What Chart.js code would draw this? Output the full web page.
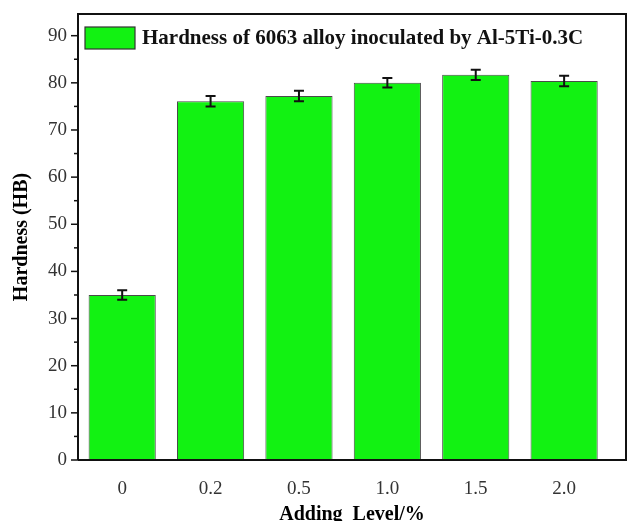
<!DOCTYPE html>
<html>
<head>
<meta charset="utf-8">
<script src="https://cdn.jsdelivr.net/npm/chart.js@4"></script>
<style>
  html, body { margin: 0; padding: 0; background: #fff; }
  #wrap { width: 627px; height: 521px; }
</style>
</head>
<body>
<div id="wrap"><canvas id="chartDureza"></canvas></div>
<script>
const niveis = ['0', '0.2', '0.5', '1.0', '1.5', '2.0'];
const dureza = [35.0, 76.1, 77.2, 80.0, 81.7, 80.4];
const erros = [1.0, 1.1, 1.1, 1.0, 1.1, 1.1];
const yTicks = [0, 10, 20, 30, 40, 50, 60, 70, 80, 90];
const legendaTexto = 'Hardness of 6063 alloy inoculated by Al-5Ti-0.3C';

const verde = '#12F212';
const serif = "'Liberation Serif', 'Times New Roman', serif";

// barras de erro + moldura + marcas do eixo y + legenda
const extras = {
    id: 'extras',
    afterDatasetsDraw(chart) {
        const ctx = chart.ctx;
        const y = chart.scales.y;
        const meta = chart.getDatasetMeta(0);
        ctx.save();
        ctx.strokeStyle = '#111';
        ctx.lineWidth = 2;
        meta.data.forEach((bar, i) => {
            const top = y.getPixelForValue(dureza[i] + erros[i]);
            const bot = y.getPixelForValue(dureza[i] - erros[i]);
            ctx.beginPath();
            ctx.moveTo(bar.x, top); ctx.lineTo(bar.x, bot);
            ctx.moveTo(bar.x - 5, top); ctx.lineTo(bar.x + 5, top);
            ctx.moveTo(bar.x - 5, bot); ctx.lineTo(bar.x + 5, bot);
            ctx.stroke();
        });
        ctx.restore();
    },
    afterDraw(chart) {
        const ctx = chart.ctx;
        const a = chart.chartArea;
        const y = chart.scales.y;
        ctx.save();
        ctx.strokeStyle = '#111';
        ctx.lineWidth = 2;
        ctx.beginPath();
        ctx.moveTo(a.left, a.bottom);
        ctx.lineTo(a.left, a.top);
        ctx.lineTo(a.right, a.top);
        ctx.lineTo(a.right, a.bottom);
        ctx.lineTo(a.left, a.bottom);
        ctx.stroke();

        // ticks do eixo y (maiores e menores)
        ctx.lineWidth = 1.5;
        for (let v = 0; v <= 90; v += 5) {
            const py = y.getPixelForValue(v);
            const len = v % 10 === 0 ? 7 : 4;
            ctx.beginPath();
            ctx.moveTo(a.left - len, py);
            ctx.lineTo(a.left, py);
            ctx.stroke();
        }

        // legenda
        ctx.fillStyle = verde;
        ctx.fillRect(85, 27, 50, 22);
        ctx.strokeStyle = '#333';
        ctx.lineWidth = 1.2;
        ctx.strokeRect(85, 27, 50, 22);
        ctx.fillStyle = '#111';
        ctx.font = "bold 21px " + serif;
        ctx.textBaseline = 'middle';
        ctx.fillText(legendaTexto, 142, 39);
        ctx.restore();
    }
};

new Chart(document.getElementById('chartDureza'), {
    type: 'bar',
    data: {
        datasets: [{
            label: legendaTexto,
            data: dureza.map((v, i) => ({ x: i, y: v })),
            backgroundColor: verde,
            borderColor: '#4a4a4a',
            borderWidth: 1,
            barPercentage: 0.76,
            categoryPercentage: 1
        }]
    },
    options: {
        responsive: true,
        maintainAspectRatio: false,
        animation: false,
        layout: { padding: { top: 14, right: 1, left: 0, bottom: 0 } },
        scales: {
            x: {
                type: 'linear',
                offset: false,
                min: -0.5,
                max: 5.7,
                afterBuildTicks(scale) {
                    scale.ticks = niveis.map((_, i) => ({ value: i }));
                },
                afterFit(scale) {
                    scale.height = 61;
                    scale.paddingLeft = 0;
                    scale.paddingRight = 0;
                },
                ticks: {
                    callback: (v) => niveis[v] ?? '',
                    color: '#333',
                    font: { family: serif, size: 19 },
                    padding: 18,
                    maxRotation: 0
                },
                grid: { display: false, drawTicks: false, tickLength: 0 },
                border: { display: false },
                title: {
                    display: true,
                    text: 'Adding  Level/%',
                    color: '#000',
                    font: { family: serif, size: 20, weight: 'bold' },
                    padding: { top: 0, bottom: -6 }
                }
            },
            y: {
                min: 0,
                max: 94.6,
                afterBuildTicks(scale) {
                    scale.ticks = yTicks.map(v => ({ value: v }));
                },
                afterFit(scale) {
                    scale.width = 78;
                    scale.paddingTop = 0;
                    scale.paddingBottom = 0;
                },
                ticks: {
                    color: '#333',
                    font: { family: serif, size: 19 },
                    padding: 11
                },
                grid: { display: false, drawTicks: false, tickLength: 0 },
                border: { display: false },
                title: {
                    display: true,
                    text: 'Hardness (HB)',
                    color: '#000',
                    font: { family: serif, size: 20, weight: 'bold' },
                    padding: { top: 10, bottom: 0 }
                }
            }
        },
        plugins: {
            legend: { display: false },
            tooltip: { enabled: false }
        }
    },
    plugins: [extras]
});
</script>
</body>
</html>
